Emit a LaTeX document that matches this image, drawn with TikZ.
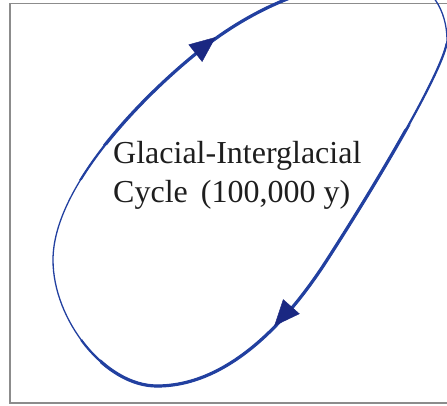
\documentclass[tikz,border=0pt]{standalone}
\usepackage{fontspec}
\setmainfont{Liberation Serif}
\usetikzlibrary{arrows.meta}
\definecolor{cycleblue}{RGB}{34,64,160}
\definecolor{arrowblue}{RGB}{26,40,130}
\definecolor{textgray}{RGB}{30,30,30}
\newcommand{\cyclepath}{(157,386) .. controls (105,386) and (53,320) .. (53,260)
  .. controls (53,185) and (148,91) .. (203,48)
  .. controls (250,11) and (320,-25) .. (400,-20)
  .. controls (432,-18) and (447,12) .. (447,40)
  .. controls (447,60) and (397,151) .. (327,260)
  .. controls (284,327) and (225,386) .. (157,386) -- cycle}
\tikzset{
  framebox/.style={draw=black!45, line width=1.3pt},
  cycleline/.style={draw=cycleblue, line join=round, line cap=round},
  arrowhd/.style={draw=arrowblue, fill=arrowblue, line width=0.4pt,
    -{Triangle[length=26pt,width=22pt]}},
  cyclelabel/.style={text=textgray, align=left, inner sep=0pt,
    font=\fontsize{32}{39}\selectfont}
}
\begin{document}
\begin{tikzpicture}[x=1pt,y=-1pt]

\useasboundingbox (0,0) rectangle (447,405);
\clip (0,0) rectangle (447,405);
\fill[white] (0,0) rectangle (447,405);

% frame, right side runs off the picture
\draw[framebox] (10,3.5) rectangle (460,403);

% the loop: thin all round, thicker where the stroke swells
\draw[cycleline, line width=1.3pt] \cyclepath;
\begin{scope}
  \clip (75,-60) -- (335,-60) -- (335,180) -- (75,180) -- cycle
        (75,420) -- (75,345) -- (450,40) -- (470,40) -- (470,420) -- cycle;
  \draw[cycleline, line width=2.2pt] \cyclepath;
\end{scope}
\begin{scope}
  \clip (100,-60) -- (335,-60) -- (335,145) -- (100,145) -- cycle
        (100,420) -- (100,360) -- (430,110) -- (470,110) -- (470,420) -- cycle;
  \draw[cycleline, line width=3.2pt] \cyclepath;
\end{scope}

% arrow heads
\coordinate (baseA) at (195,53.5);
\coordinate (tipA) at (215.7,37.1);
\coordinate (baseB) at (291,307);
\coordinate (tipB) at (274.2,326);
\draw[arrowhd] (baseA) -- (tipA);
\draw[arrowhd] (baseB) -- (tipB);

\node[cyclelabel, anchor=base west] (cyclename) at (113,202)
  {Glacial-Interglacial\\Cycle\hspace{5pt} (100,000 y)};

\end{tikzpicture}
\end{document}
